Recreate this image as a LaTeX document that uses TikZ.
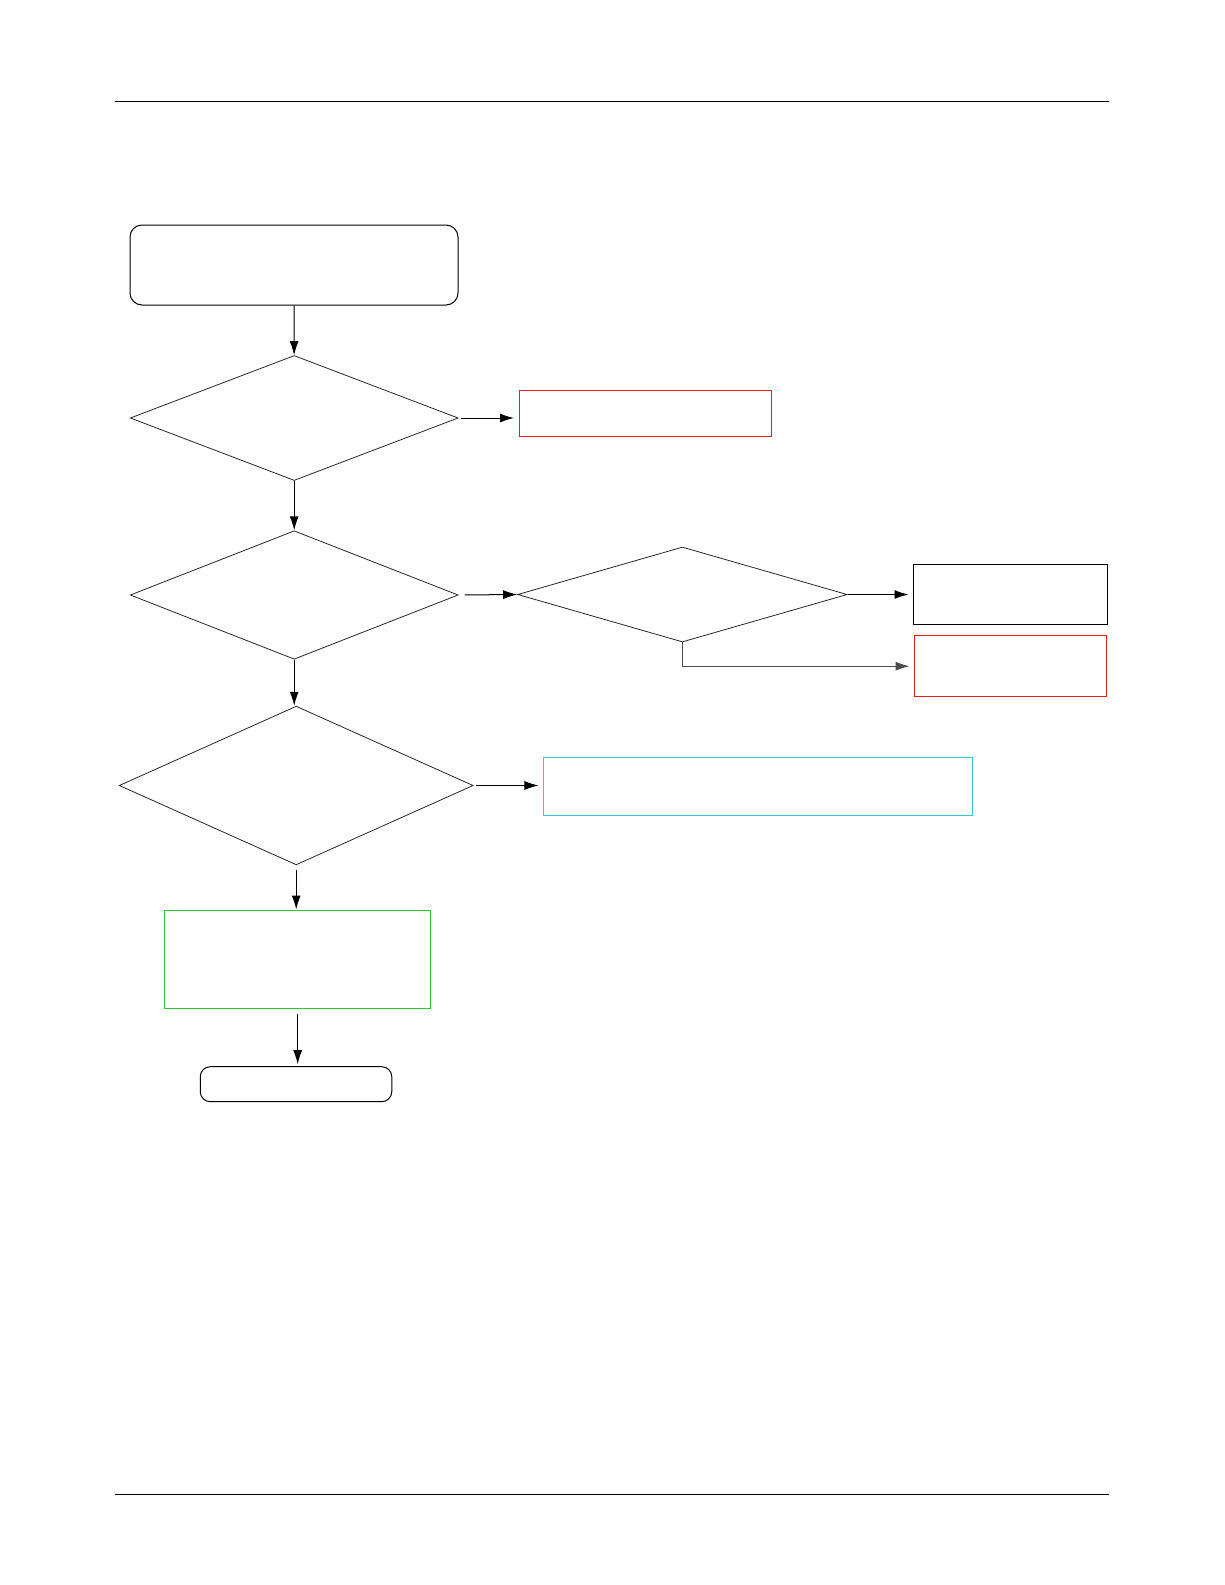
\documentclass[tikz,border=0pt]{standalone}
\usepackage{amsmath}
\usepackage{amssymb}
\usetikzlibrary{shapes.geometric,arrows.meta}

\definecolor{boxred}{RGB}{237,28,36}
\definecolor{boxcyan}{RGB}{60,200,205}
\definecolor{boxgreen}{RGB}{50,200,50}

\tikzset{
  flow/.style={line width=1pt,-{Latex[length=14pt,width=9pt]}},
  decide/.style={diamond,draw=black!85,line width=0.8pt,inner sep=0pt},
  stepbox/.style={rectangle,draw,line width=1pt,inner sep=0pt},
  termbox/.style={rectangle,rounded corners=12pt,draw,line width=1pt,inner sep=0pt}
}

\begin{document}
\begin{tikzpicture}[x=1pt,y=1pt,yscale=-1,xscale=1]
\useasboundingbox (0,0) rectangle (1225,1585); %set page size

%Straight Lines: header and footer rules
\draw [line width=1pt]  (115,101) -- (1109,101) ;
\draw [line width=1pt]  (115,1494) -- (1109,1494) ;

%Shape: Rounded Rect
\node [termbox,minimum width=328pt,minimum height=80pt] (start) at (294,265) {};
%Shape: Diamond
\node [decide,minimum width=328pt,minimum height=125pt] (d1) at (294.2,418) {};
%Shape: Rectangle
\node [stepbox,draw=boxred,minimum width=252pt,minimum height=46.5pt] (r1) at (645.5,413.5) {};
%Shape: Diamond
\node [decide,minimum width=328pt,minimum height=128.5pt] (d2) at (294.2,595) {};
%Shape: Diamond
\node [decide,minimum width=329.6pt,minimum height=95pt] (d3) at (682.4,594.5) {};
%Shape: Rectangle
\node [stepbox,minimum width=194pt,minimum height=60.7pt] (b1) at (1010,594.5) {};
%Shape: Rectangle
\node [stepbox,draw=boxred,minimum width=192pt,minimum height=60.7pt] (r2) at (1010,666.2) {};
%Shape: Diamond
\node [decide,minimum width=354pt,minimum height=158.7pt] (d4) at (296.2,785.5) {};
%Shape: Rectangle
\node [stepbox,draw=boxcyan,minimum width=428.7pt,minimum height=58.6pt] (c1) at (758.3,786.5) {};
%Shape: Rectangle
\node [stepbox,draw=boxgreen,minimum width=266pt,minimum height=98pt] (g1) at (297.7,959) {};
%Shape: Rounded Rect
\node [termbox,rounded corners=10pt,minimum width=191.5pt,minimum height=35pt] (end) at (296,1084.2) {};

%Connectors
\draw [flow]  (start) -- (d1) ;
\draw [flow,shorten <=2pt,shorten >=5pt]  (d1.east) -- (d1.east -| r1.west) ;
\draw [flow]  (d1) -- (d2) ;
\draw [flow,shorten <=6pt]  (d2.east) -- (d3.west) ;
\draw [flow,shorten >=4pt]  (d3.east) -- (b1.west) ;
\draw [flow,black!70,shorten >=4pt]  (d3.south) |- (r2.west) ;
\draw [flow]  (d2.south) -- (d2.south |- d4.north) ;
\draw [flow,shorten <=2pt,shorten >=5pt]  (d4.east) -- (d4.east -| c1.west) ;
\draw [flow,shorten <=5pt]  (d4) -- (d4 |- g1.north) ;
\draw [flow,shorten <=5pt,shorten >=2pt]  (g1) -- (g1 |- end.north) ;

\end{tikzpicture}
\end{document}
